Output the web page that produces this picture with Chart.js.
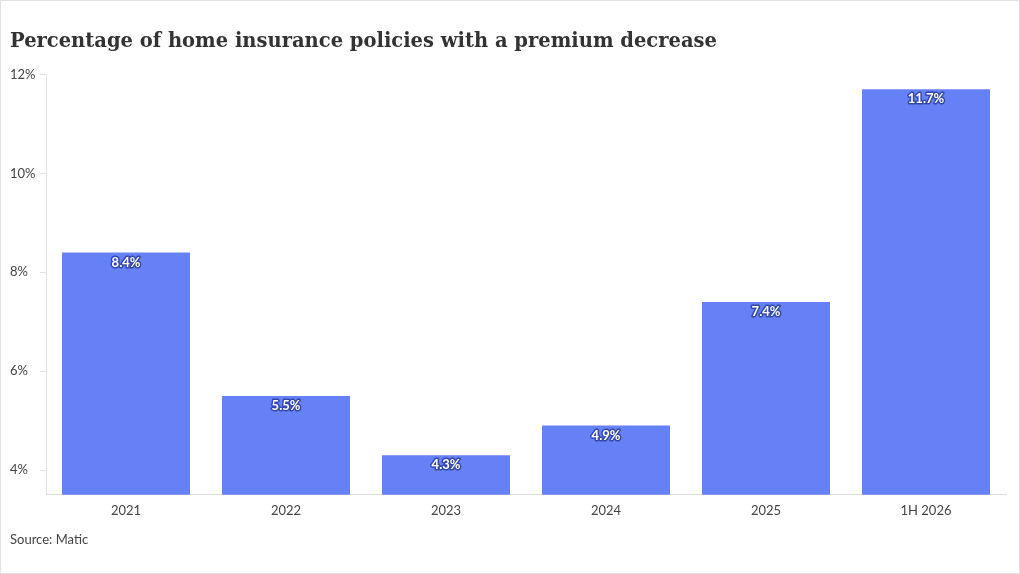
<!DOCTYPE html>
<html>
<head>
<meta charset="utf-8">
<script src="https://cdn.jsdelivr.net/npm/chart.js@4/dist/chart.umd.min.js"></script>
<style>
  html, body { margin: 0; padding: 0; background: #fff; }
  #wrap { position: relative; width: 1020px; height: 574px; box-sizing: border-box; border: 1px solid #e2e2e2; }
  canvas { display: block; }
</style>
</head>
<body>
<div id="wrap"><canvas id="chart" width="1018" height="572"></canvas></div>
<script>
  var TITLE = 'Percentage of home insurance policies with a premium decrease';
  var SOURCE = 'Source: Matic';
  var years = ['2021', '2022', '2023', '2024', '2025', '1H 2026'];
  var shares = [8.4, 5.5, 4.3, 4.9, 7.4, 11.7];
  var yTicks = [4, 6, 8, 10, 12];

  var BAR = '#6680f5';
  var INK = '#444444';

  // etiquettes blanches a contour bleu, en haut de chaque barre
  var barLabels = {
    id: 'barLabels',
    afterDatasetsDraw: function (chart) {
      var ctx = chart.ctx;
      var meta = chart.getDatasetMeta(0);
      ctx.save();
      ctx.font = 'bold 13px Lato';
      ctx.textAlign = 'center';
      ctx.textBaseline = 'middle';
      ctx.lineJoin = 'round';
      meta.data.forEach(function (bar, i) {
        var txt = shares[i].toFixed(1) + '%';
        ctx.lineWidth = 3;
        ctx.strokeStyle = '#3348a8';
        ctx.strokeText(txt, bar.x, bar.y + 10);
        ctx.fillStyle = '#ffffff';
        ctx.fillText(txt, bar.x, bar.y + 10);
      });
      ctx.restore();
    }
  };

  new Chart(document.getElementById('chart'), {
    type: 'bar',
    data: {
      labels: years,
      datasets: [
        {
          data: shares,
          backgroundColor: BAR,
          categoryPercentage: 0.8,
          barPercentage: 1
        }
      ]
    },
    options: {
      responsive: false,
      animation: false,
      layout: { padding: { left: 9, right: 13, top: 29, bottom: 25 } },
      plugins: {
        legend: { display: false },
        tooltip: { enabled: false },
        title: {
          display: true,
          text: TITLE,
          align: 'start',
          color: '#333333',
          font: { family: 'DejaVu Serif', weight: 'bold', size: 19.5 },
          padding: { top: 0, bottom: 21 }
        },
        subtitle: {
          display: true,
          text: SOURCE,
          position: 'bottom',
          align: 'start',
          color: INK,
          font: { family: 'Lato', size: 13 },
          padding: { top: 6, bottom: 0 }
        }
      },
      scales: {
        x: {
          grid: { display: false, drawTicks: false },
          border: { display: true, color: '#dddddd' },
          ticks: { color: INK, font: { family: 'Lato', size: 13 }, padding: 8 }
        },
        y: {
          min: 3.5,
          max: 12,
          afterBuildTicks: function (scale) {
            scale.ticks = yTicks.map(function (v) { return { value: v }; });
          },
          afterFit: function (scale) {
            scale.width = 36;
          },
          grid: { drawOnChartArea: false, tickLength: 6, color: '#e2e2e2' },
          border: { display: true, color: '#e2e2e2' },
          ticks: {
            color: INK,
            crossAlign: 'far',
            font: { family: 'Lato', size: 13 },
            callback: function (v) { return v + '%'; }
          }
        }
      }
    },
    plugins: [barLabels]
  });
</script>
</body>
</html>
